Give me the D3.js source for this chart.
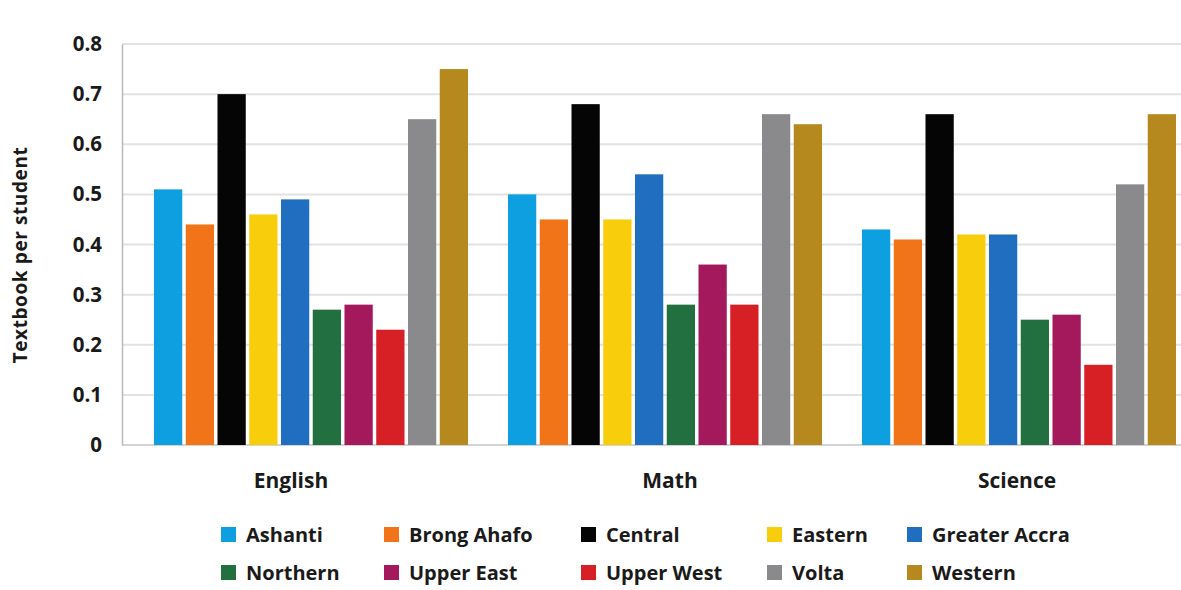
<!DOCTYPE html>
<html>
<head>
<meta charset="utf-8">
<script src="https://cdn.jsdelivr.net/npm/d3@7"></script>
<style>
  html, body { margin: 0; padding: 0; background: #fff; }
  svg { display: block; font-family: "Open Sans", "Noto Sans", sans-serif; }
</style>
</head>
<body>
<svg id="chart" width="1181" height="590"></svg>
<script>
// Textbooks per student by subject, for each region
const subjects = ["English", "Math", "Science"];
const regions = ["Ashanti", "Brong Ahafo", "Central", "Eastern", "Greater Accra",
                 "Northern", "Upper East", "Upper West", "Volta", "Western"];
const english = [0.51, 0.44, 0.70, 0.46, 0.49, 0.27, 0.28, 0.23, 0.65, 0.75];
const math    = [0.50, 0.45, 0.68, 0.45, 0.54, 0.28, 0.36, 0.28, 0.66, 0.64];
const science = [0.43, 0.41, 0.66, 0.42, 0.42, 0.25, 0.26, 0.16, 0.52, 0.66];
const regionColors = ["#0e9fe0", "#f27419", "#050505", "#f7cd0c", "#1f6ebf",
                      "#22703f", "#a3195c", "#d71f26", "#8a8a8c", "#b5891d"];
const yTicks = [0, 0.1, 0.2, 0.3, 0.4, 0.5, 0.6, 0.7, 0.8];

const seriesBySubject = { English: english, Math: math, Science: science };

const svg = d3.select("#chart");
const W = 1181;

const y = d3.scaleLinear().domain([0, 0.8]).range([445, 44]);
const x0 = d3.scaleBand().domain(subjects).range([134, 1196])
  .paddingInner(0.113).paddingOuter(0.0565);
const x1 = d3.scaleBand().domain(regions).range([0, x0.bandwidth()]).paddingInner(0.11);
const color = d3.scaleOrdinal().domain(regions).range(regionColors);

// horizontal gridlines
svg.append("g")
  .selectAll("line")
  .data(yTicks.filter(d => d > 0))
  .join("line")
  .attr("x1", 122).attr("x2", W)
  .attr("y1", d => y(d)).attr("y2", d => y(d))
  .attr("stroke", "#e2e2e2").attr("stroke-width", 2);

// y axis with bold tick labels
const yAxis = svg.append("g")
  .attr("transform", "translate(122,0)")
  .call(d3.axisLeft(y).tickValues(yTicks).tickSize(0).tickPadding(20)
    .tickFormat(d => d === 0 ? "0" : d3.format(".1f")(d)));
yAxis.select(".domain").attr("stroke", "#b9b9b9").attr("stroke-width", 1.5);
yAxis.selectAll("text")
  .attr("font-size", 20.5).attr("font-weight", 700).attr("fill", "#1a1a1a")
  .attr("font-family", "'Open Sans', sans-serif");

// baseline
svg.append("line")
  .attr("x1", 122).attr("x2", W)
  .attr("y1", y(0)).attr("y2", y(0))
  .attr("stroke", "#c4c4c4").attr("stroke-width", 1.5);

// grouped bars
const groups = svg.append("g")
  .selectAll("g")
  .data(subjects)
  .join("g")
  .attr("transform", s => `translate(${x0(s)},0)`);

groups.selectAll("rect")
  .data(s => regions.map((r, i) => ({ region: r, value: seriesBySubject[s][i] })))
  .join("rect")
  .attr("x", d => x1(d.region))
  .attr("width", x1.bandwidth())
  .attr("y", d => y(d.value))
  .attr("height", d => y(0) - y(d.value))
  .attr("fill", d => color(d.region));

// subject labels
const labelShift = { English: -20, Math: 5, Science: -2 };
svg.append("g")
  .attr("transform", `translate(0,${y(0)})`)
  .call(d3.axisBottom(x0).tickSize(0).tickPadding(28))
  .call(g => g.select(".domain").remove())
  .selectAll("text")
  .attr("dx", d => labelShift[d])
  .attr("font-size", 21).attr("font-weight", 700).attr("fill", "#1a1a1a")
  .attr("font-family", "'Open Sans', sans-serif");

// y axis title
svg.append("text")
  .attr("transform", "translate(27,255) rotate(-90)")
  .attr("text-anchor", "middle")
  .attr("font-size", 19).attr("font-weight", 700).attr("fill", "#1a1a1a")
  .attr("letter-spacing", 0.6)
  .text("Textbook per student");

// legend: two rows of five
const legendCols = [221, 384, 581, 767, 907];
const legend = svg.append("g")
  .selectAll("g")
  .data(regions)
  .join("g")
  .attr("transform", (d, i) => `translate(${legendCols[i % 5]},${i < 5 ? 527 : 565})`);
legend.append("rect")
  .attr("width", 15).attr("height", 15)
  .attr("fill", d => color(d));
legend.append("text")
  .attr("x", 25).attr("y", 15)
  .attr("font-size", 20).attr("font-weight", 700).attr("fill", "#1a1a1a")
  .text(d => d);
</script>
</body>
</html>
